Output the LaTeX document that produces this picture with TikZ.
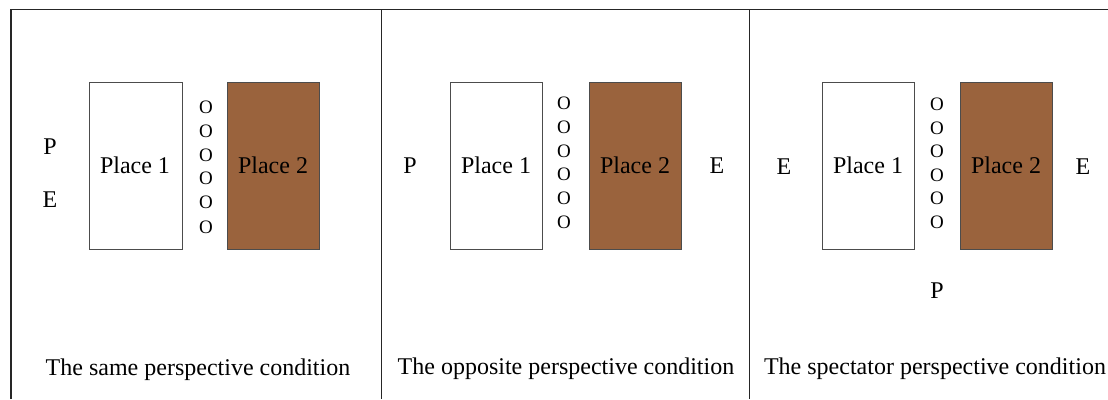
\documentclass[tikz,border=0pt]{standalone}
\usepackage{fontspec}
\setmainfont{Liberation Serif}
\definecolor{placebrown}{RGB}{154,99,61}
\begin{document}
\begin{tikzpicture}[x=1pt,y=-1pt,
  frame/.style={line width=1.4pt,draw=black!85},
  place/.style={draw=black!70,line width=0.8pt,minimum width=92pt,minimum height=167pt,inner sep=0pt,anchor=north west},
  brownplace/.style={place,fill=placebrown},
  lbl/.style={font=\fontsize{24}{28}\selectfont,anchor=base,inner sep=0pt},
  odot/.style={font=\fontsize{19}{22}\selectfont,anchor=base,inner sep=0pt},
  caption/.style={font=\fontsize{24}{28}\selectfont,anchor=base,inner sep=0pt}]
\useasboundingbox (0,0) rectangle (1108,399);
% frame
\coordinate (fbl) at (11,399);
\coordinate (ftl) at (11,9.5);
\coordinate (ftr) at (1108,9.5);
\coordinate (d1t) at (381.5,9.5);
\coordinate (d1b) at (381.5,399);
\coordinate (d2t) at (749.5,9.5);
\coordinate (d2b) at (749.5,399);
\draw[frame] (fbl) -- (ftl) -- (ftr);
\draw[frame] (d1t) -- (d1b);
\draw[frame] (d2t) -- (d2b);
% panel 1
\node[place,minimum width=93pt] (a1) at (89,82) {};
\node[lbl] (a1t) at (135,173) {Place 1};
\node[brownplace] (a2) at (227,82) {};
\node[lbl] (a2t) at (273,173) {Place 2};
\foreach \i/\y in {1/113,2/137,3/161,4/184,5/208,6/233}
  \node[odot] (ao\i) at (206,\y) {O};
\node[lbl] (aP) at (50,154) {P};
\node[lbl] (aE) at (50,207) {E};
\node[caption] (acap) at (198,375) {The same perspective condition};
% panel 2
\node[place] (b1) at (450,82) {};
\node[lbl] (b1t) at (496,173) {Place 1};
\node[brownplace] (b2) at (589,82) {};
\node[lbl] (b2t) at (635,173) {Place 2};
\foreach \i/\y in {1/109,2/133,3/157,4/180,5/204,6/228}
  \node[odot] (bo\i) at (564,\y) {O};
\node[lbl] (bP) at (410,173) {P};
\node[lbl] (bE) at (717,173) {E};
\node[caption] (bcap) at (566,374) {The opposite perspective condition};
% panel 3
\node[place] (c1) at (822,82) {};
\node[lbl] (c1t) at (868,173) {Place 1};
\node[brownplace] (c2) at (960,82) {};
\node[lbl] (c2t) at (1006,173) {Place 2};
\foreach \i/\y in {1/110,2/134,3/157,4/181,5/204,6/228}
  \node[odot] (co\i) at (937,\y) {O};
\node[lbl] (cE1) at (784,174) {E};
\node[lbl] (cE2) at (1083,174) {E};
\node[lbl] (cP) at (937,298) {P};
\node[caption] (ccap) at (935,374) {The spectator perspective condition};
\end{tikzpicture}
\end{document}
